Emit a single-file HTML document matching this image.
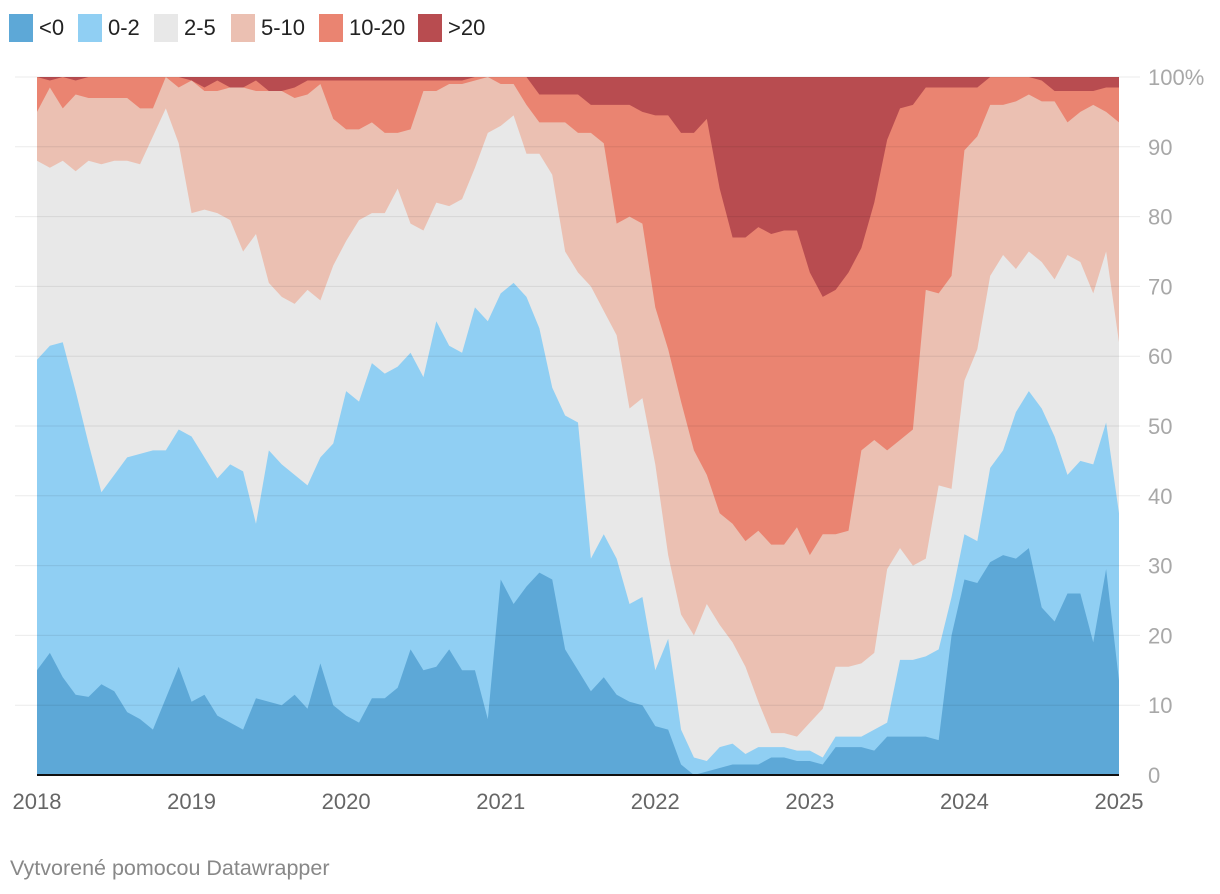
<!DOCTYPE html>
<html><head><meta charset="utf-8"><style>
body{margin:0;background:#fff;font-family:"Liberation Sans",sans-serif;}
svg{display:block}
</style></head><body>
<svg id="chart" width="1220" height="894" xmlns="http://www.w3.org/2000/svg">
<g id="legend" font-size="22" fill="#222"></g>
<g id="areas"></g>
<g id="grid"></g>
<g id="yaxis" font-size="22" fill="#a8a8a8"></g>
<g id="xaxis" font-size="22" fill="#666"></g>
<text x="10" y="875" font-size="21.5" fill="#888">Vytvorené pomocou Datawrapper</text>
</svg>
<script>
const categories = ["<0","0-2","2-5","5-10","10-20",">20"];
const colors = ["#5da8d7","#90cff3","#e8e8e8","#ebc0b2","#ea8471","#b84c50"];
const yTicks = [0,10,20,30,40,50,60,70,80,90,100];
const yTickLabels = ["0","10","20","30","40","50","60","70","80","90","100%"];
const xTickLabels = ["2018","2019","2020","2021","2022","2023","2024","2025"];
// cumulative tops (%) monthly Jan 2018 .. Jan 2025
const cumLt0 = [15,17.5,14,11.5,11.2,13,12,9,8,6.5,11,15.5, 10.5,11.5,8.5,7.5,6.5,11,10.5,10,11.5,9.5,16,10, 8.5,7.5,11,11,12.5,18,15,15.5,18,15,15,8, 28,24.5,27,29,28,18,15,12,14,11.5,10.5,10, 7,6.5,1.5,0,0.5,1,1.5,1.5,1.5,2.5,2.5,2, 2,1.5,4,4,4,3.5,5.5,5.5,5.5,5.5,5,20, 28,27.5,30.5,31.5,31,32.5,24,22,26,26,19,29.5, 13.5];
const cum0to2 = [59.5,61.5,62,55,47.5,40.5,43,45.5,46,46.5,46.5,49.5, 48.5,45.5,42.5,44.5,43.5,36,46.5,44.5,43,41.5,45.5,47.5, 55,53.5,59,57.5,58.5,60.5,57,65,61.5,60.5,67,65, 69,70.5,68.5,64,55.5,51.5,50.5,31,34.5,31,24.5,25.5, 15,19.5,6.5,2.5,2,4,4.5,3,4,4,4,3.5, 3.5,2.5,5.5,5.5,5.5,6.5,7.5,16.5,16.5,17,18,25.5, 34.5,33.5,44,46.5,52,55,52.5,48.5,43,45,44.5,50.5, 37.5];
const cum2to5 = [88,87,88,86.5,88,87.5,88,88,87.5,91.5,95.5,90.5, 80.5,81,80.5,79.5,75,77.5,70.5,68.5,67.5,69.5,68,73, 76.5,79.5,80.5,80.5,84,79,78,82,81.5,82.5,87,92, 93,94.5,89,89,86,75,72,70,66.5,63,52.5,54, 44.5,31.5,23,20,24.5,21.5,19,15.5,10.5,6,6,5.5, 7.5,9.5,15.5,15.5,16,17.5,29.5,32.5,30,31,41.5,41, 56.5,61,71.5,74.5,72.5,75,73.5,71,74.5,73.5,69,75, 62];
const cum5to10 = [95,98.5,95.5,97.5,97,97,97,97,95.5,95.5,100,98.5, 99.5,98,98,98.5,98.5,98,98,98,97,97.5,99,94, 92.5,92.5,93.5,92,92,92.5,98,98,99,99,99.5,100, 99,99,96,93.5,93.5,93.5,92,92,90.5,79,80,79, 67,61,53.5,46.5,43,37.5,36,33.5,35,33,33,35.5, 31.5,34.5,34.5,35,46.5,48,46.5,48,49.5,69.5,69,71.5, 89.5,91.5,96,96,96.5,97.5,96.5,96.5,93.5,95,96,95, 93.5];
const cum10to20 = [100,99.5,100,99.5,100,100,100,100,100,100,100,100, 99.5,98.5,99.5,98.5,98.5,99.5,98,98,98.5,99.5,99.5,99.5, 99.5,99.5,99.5,99.5,99.5,99.5,99.5,99.5,99.5,99.5,100,100, 100,100,100,97.5,97.5,97.5,97.5,96,96,96,96,95, 94.5,94.5,92,92,94,84,77,77,78.5,77.5,78,78, 72,68.5,69.5,72,75.5,82,91,95.5,96,98.5,98.5,98.5, 98.5,98.5,100,100,100,100,99.5,98,98,98,98,98.5, 98.5];

const X0=37, X1=1119, Y0=775, Y1=77;
const n = cumLt0.length;
const xs = i => X0 + (X1-X0)*i/(n-1);
const ys = v => Y0 - (Y0-Y1)*v/100;
const NS="http://www.w3.org/2000/svg";
function mk(tag, attrs, parent){const e=document.createElementNS(NS,tag);for(const k in attrs)e.setAttribute(k,attrs[k]);parent.appendChild(e);return e;}

const full = cumLt0.map(()=>100);
const tops = [cumLt0,cum0to2,cum2to5,cum5to10,cum10to20,full];
const areas = document.getElementById('areas');
for(let s=5;s>=0;s--){
  let d="M"+xs(0)+","+ys(tops[s][0]);
  for(let i=1;i<n;i++) d+="L"+xs(i)+","+ys(tops[s][i]);
  d+="L"+xs(n-1)+","+Y0+"L"+xs(0)+","+Y0+"Z";
  const p = mk('path',{d:d,fill:colors[s]},areas);
  
  
}
const grid=document.getElementById('grid'), ya=document.getElementById('yaxis');
yTicks.forEach((t,k)=>{
  if(t>0){const l=mk('line',{x1:15,x2:1140,y1:ys(t),y2:ys(t),stroke:"#000","stroke-opacity":0.08,"stroke-width":1},grid);
  
  }
  const tx=mk('text',{x:1148,y:ys(t)+8},ya); tx.textContent=yTickLabels[k];
  
  
});
const base=mk('line',{x1:X0,x2:X1,y1:Y0,y2:Y0,stroke:"#111","stroke-width":2},grid);


const xa=document.getElementById('xaxis');
xTickLabels.forEach((lab,k)=>{
  const x = X0 + (X1-X0)*k/(xTickLabels.length-1);
  const tx=mk('text',{x:x,y:809,"text-anchor":"middle"},xa); tx.textContent=lab;
  
  
});
const lg=document.getElementById('legend');
const lx=[9,78,154,231,319,418];
categories.forEach((c,k)=>{
  const r=mk('rect',{x:lx[k],y:14,width:24,height:28,fill:colors[k]},lg);
  
  
  const t=mk('text',{x:lx[k]+30,y:35},lg); t.textContent=c;
  
  
});
</script>
</body></html>
